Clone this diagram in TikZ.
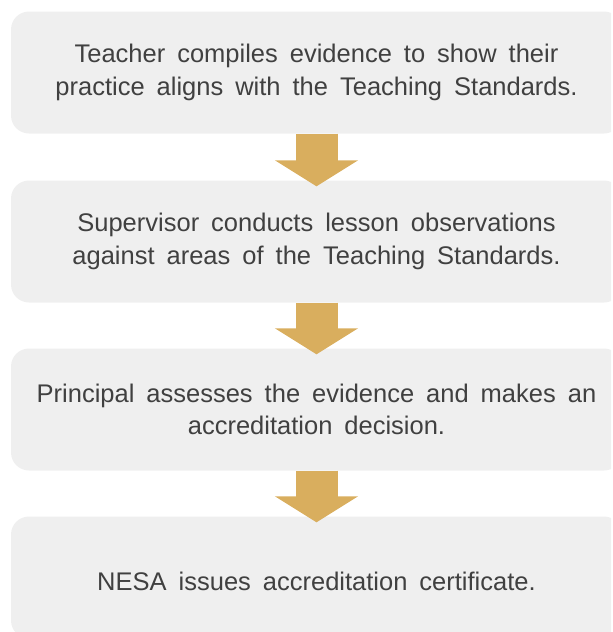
\documentclass[tikz,border=0pt]{standalone}
\usepackage{fontspec}
\setmainfont{Liberation Sans}
\usepackage{xcolor}
\usepackage{tikz}
\usetikzlibrary{positioning, arrows.meta}

\definecolor{boxgray}{HTML}{EFEFEF}
\definecolor{arrowgold}{HTML}{D9AE5E}
\definecolor{textgray}{HTML}{404040}

\newcommand{\stagefont}{\fontsize{25.5}{32.5}\selectfont\spaceskip=12pt\relax}

\begin{document}
\begin{tikzpicture}[
            x=1pt, y=-1pt,
            stage/.style = {rectangle, rounded corners=18pt, fill=boxgray, text=textgray,
                            minimum width=611pt, minimum height=122pt, align=center,
                            font=\stagefont,
                            execute at begin node={\rule{0pt}{26pt}}},
            flow/.style = {draw=arrowgold, line width=42pt,
                           -{Triangle[width=82pt, length=26pt]}, shorten >=-6pt},
        ]
            \useasboundingbox (0,0) rectangle (613,632);

            % Stages, top to bottom
            \begin{scope}
                \clip (0,0) rectangle (611,632);
                \node[stage] (s1) at (316.5,72.5) {Teacher compiles evidence to show their\\practice aligns with the Teaching Standards.};
                \node[stage] (s2) at (316.5,241.5) {Supervisor conducts lesson observations\\against areas of the Teaching Standards.};
                \node[stage] (s3) at (316.5,409.5) {Principal assesses the evidence and makes an\\accreditation decision.};
                \node[stage] (s4) at (316.5,577.5) {NESA issues accreditation certificate.};
            \end{scope}

            % Arrows between stages
            \draw[flow] (s1) -- (s2);
            \draw[flow] (s2) -- (s3);
            \draw[flow] (s3) -- (s4);
        \end{tikzpicture}
\end{document}
